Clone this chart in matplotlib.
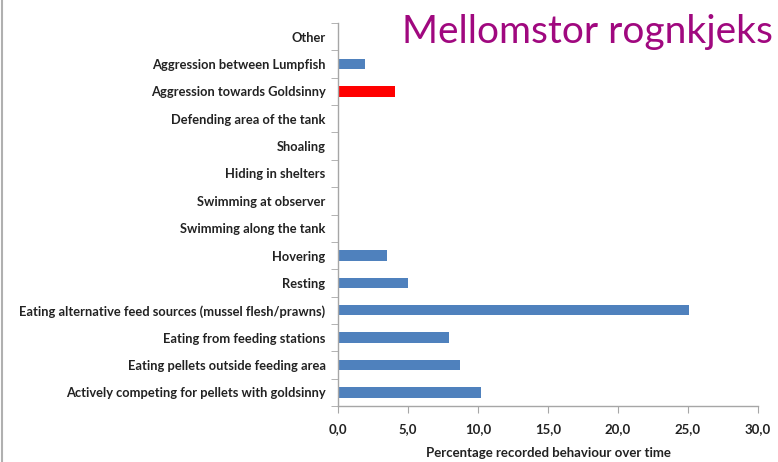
import matplotlib.pyplot as plt
from matplotlib.lines import Line2D

plt.rcParams["font.family"] = ["Lato", "DejaVu Sans"]

# categories listed bottom -> top
behaviours = [
    "Actively competing for pellets with goldsinny",
    "Eating pellets outside feeding area",
    "Eating from feeding stations",
    "Eating alternative feed sources (mussel flesh/prawns)",
    "Resting",
    "Hovering",
    "Swimming along the tank",
    "Swimming at observer",
    "Hiding in shelters",
    "Shoaling",
    "Defending area of the tank",
    "Aggression towards Goldsinny",
    "Aggression between Lumpfish",
    "Other",
]
percent = [10.2, 8.7, 7.9, 25.1, 5.0, 3.5, 0, 0, 0, 0, 0, 4.1, 1.9, 0]
highlight = "Aggression towards Goldsinny"
xticks = [0, 5, 10, 15, 20, 25, 30]

blue = "#4f81bd"
red = "#ff0000"
axis_grey = "#a6a6a6"

fig = plt.figure(figsize=(7.78, 4.62), dpi=100)
ax = fig.add_axes([338 / 778, 1 - 406 / 462, 420 / 778, 383 / 462])

colors = [red if b == highlight else blue for b in behaviours]
ypos = list(range(len(behaviours)))
ax.barh(ypos, percent, height=0.38, color=colors)

ax.set_xlim(0, 30)
ax.set_ylim(-0.5, len(behaviours) - 0.5)
ax.set_xticks(xticks)
ax.set_xticklabels([f"{v:.1f}".replace(".", ",") for v in xticks],
                   fontsize=9.5, fontweight="bold", color="#222222")
ax.set_yticks(ypos)
ax.set_yticklabels(behaviours, fontsize=9.3, fontweight="bold", color="#222222")
ax.tick_params(axis="y", length=0, pad=9)
ax.tick_params(axis="x", length=5, color=axis_grey, pad=7)

# category boundary ticks on the y axis
ax.set_yticks([i - 0.5 for i in range(len(behaviours) + 1)], minor=True)
ax.tick_params(axis="y", which="minor", length=5, color=axis_grey)

for side in ["top", "right"]:
    ax.spines[side].set_visible(False)
for side in ["left", "bottom"]:
    ax.spines[side].set_color(axis_grey)
    ax.spines[side].set_linewidth(1.0)

ax.set_xlabel("Percentage recorded behaviour over time", fontsize=9.5,
              fontweight="bold", color="#222222", labelpad=9)

fig.text(0.993, 0.93, "Mellomstor rognkjeks", ha="right", va="center",
         fontsize=28, color="#a0087f")

# thin frame line on the left edge
fig.add_artist(Line2D([0.003, 0.003], [0, 1], transform=fig.transFigure,
                      color="#b0b0b0", linewidth=1.5))

fig.savefig("out.png", dpi=100)
